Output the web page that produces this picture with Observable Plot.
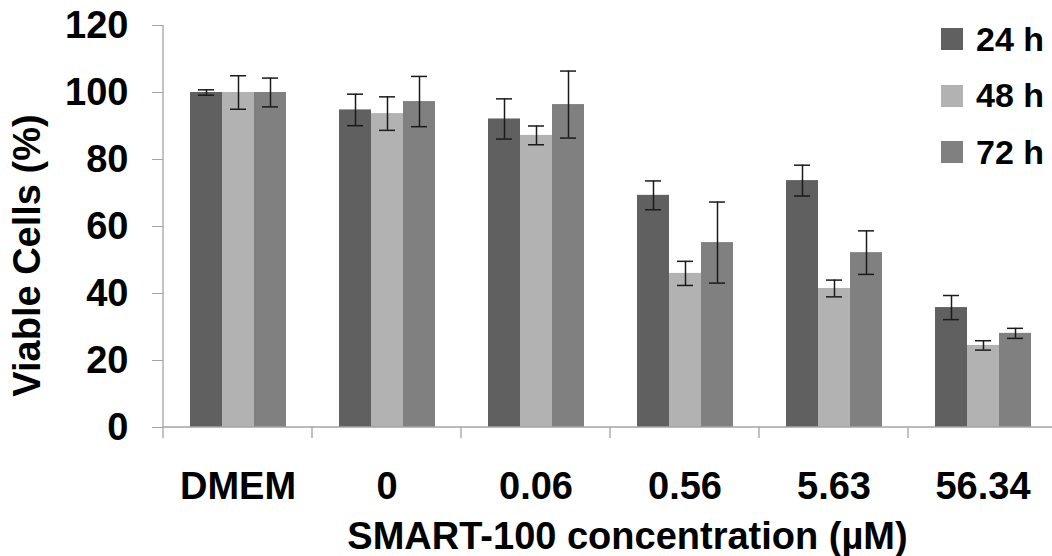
<!DOCTYPE html>
<html><head><meta charset="utf-8">
<script src="https://cdn.jsdelivr.net/npm/d3@7"></script>
<script src="https://cdn.jsdelivr.net/npm/@observablehq/plot@0.6"></script>
<style>
html,body{margin:0;padding:0;background:#fff;}
#wrap{position:relative;width:1052px;height:556px;font-family:"Liberation Sans",Arial,sans-serif;overflow:hidden;}
#legend{position:absolute;left:941px;top:11px;}
.item{display:flex;align-items:center;height:56.5px;font-size:34px;font-weight:bold;color:#000;}
.sw{width:22px;height:22px;margin-right:13px;flex:none;}
</style></head><body><div id="wrap"><div id="chart"></div><div id="legend"></div></div>
<script>
const categories = ["DMEM", "0", "0.06", "0.56", "5.63", "56.34"];
const series = ["24 h", "48 h", "72 h"];
const values24 = [100.0, 94.8, 92.1, 69.3, 73.7, 35.8];
const values48 = [100.0, 93.7, 87.2, 46.0, 41.5, 24.5];
const values72 = [100.0, 97.3, 96.4, 55.2, 52.2, 28.1];
const errors24 = [0.8, 4.7, 6.0, 4.3, 4.6, 3.6];
const errors48 = [5.0, 5.0, 2.8, 3.6, 2.5, 1.4];
const errors72 = [4.3, 7.5, 10.0, 12.1, 6.5, 1.5];
const yTicks = [0, 20, 40, 60, 80, 100, 120];
const colors = ["#606060", "#b2b2b2", "#808080"];
const yTitle = "Viable Cells (%)";
const xTitle = "SMART-100 concentration (µM)";

const axisColor = "#a3a3a3";
const valuesBySeries = [values24, values48, values72];
const errorsBySeries = [errors24, errors48, errors72];
const data = [];
categories.forEach((c, i) => series.forEach((s, j) => {
  const v = valuesBySeries[j][i], e = errorsBySeries[j][i];
  data.push({conc: c, time: s, value: v, lo: v - e, hi: v + e});
}));

function axisLines(index, scales) {
  const fx = scales.fx, y = scales.y;
  const left = fx(categories[0]);
  const right = fx(categories[categories.length - 1]) + fx.bandwidth();
  const y0 = y(0), yTop = y(yTicks[yTicks.length - 1]);
  const g = d3.create("svg:g").attr("stroke", axisColor).attr("stroke-width", 1.3).attr("fill", "none");
  g.append("line").attr("x1", left).attr("x2", left).attr("y1", yTop).attr("y2", y0 + 11);
  g.append("line").attr("x1", left).attr("x2", right).attr("y1", y0).attr("y2", y0);
  const bounds = categories.slice(1).map(c => fx(c)).concat([right]);
  for (const b of bounds) {
    g.append("line").attr("x1", b).attr("x2", b).attr("y1", y0).attr("y2", y0 + 11);
  }
  return g.node();
}

const chart = Plot.plot({
  width: 1052,
  height: 556,
  marginLeft: 163,
  marginRight: -5,
  marginTop: 25,
  marginBottom: 129,
  style: {fontFamily: "'Liberation Sans', Arial, sans-serif", fontSize: "38px", fontWeight: "bold", background: "#fff", color: "#000"},
  fx: {domain: categories, padding: 0},
  x: {domain: series, paddingInner: 0, paddingOuter: 0.76, axis: null},
  y: {domain: [0, 120]},
  color: {domain: series, range: colors},
  marks: [
    Plot.barY(data, {fx: "conc", x: "time", y: "value", fill: "time"}),
    Plot.ruleX(data, {fx: "conc", x: "time", y1: "lo", y2: "hi", stroke: "#1a1a1a", strokeWidth: 1.5}),
    Plot.tickY(data, {fx: "conc", x: "time", y: "lo", stroke: "#1a1a1a", strokeWidth: 1.5, insetLeft: 8, insetRight: 8}),
    Plot.tickY(data, {fx: "conc", x: "time", y: "hi", stroke: "#1a1a1a", strokeWidth: 1.5, insetLeft: 8, insetRight: 8}),
    Plot.frame({facet: "super", render: axisLines}),
    Plot.axisY({ticks: yTicks, tickSize: 11, tickPadding: 24, stroke: axisColor, fill: "#000", label: null, fontSize: 38}),
    Plot.axisFx({anchor: "bottom", tickSize: 0, tickPadding: 45, label: null, fontSize: 38}),
    Plot.text([yTitle], {text: d => d, frameAnchor: "left", textAnchor: "middle", rotate: -90, lineAnchor: "bottom", dx: -124, dy: 29, fontSize: 38, fontWeight: "bold", facet: "super"}),
    Plot.text([xTitle], {text: d => d, frameAnchor: "bottom", lineAnchor: "bottom", dx: 17, dy: 121, fontSize: 38, fontWeight: "bold", facet: "super"})
  ]
});
document.getElementById("chart").appendChild(chart);

const legend = d3.select("#legend");
series.forEach((s, j) => {
  const item = legend.append("div").attr("class", "item");
  item.append("div").attr("class", "sw").style("background", colors[j]);
  item.append("span").text(s);
});
</script></body></html>
